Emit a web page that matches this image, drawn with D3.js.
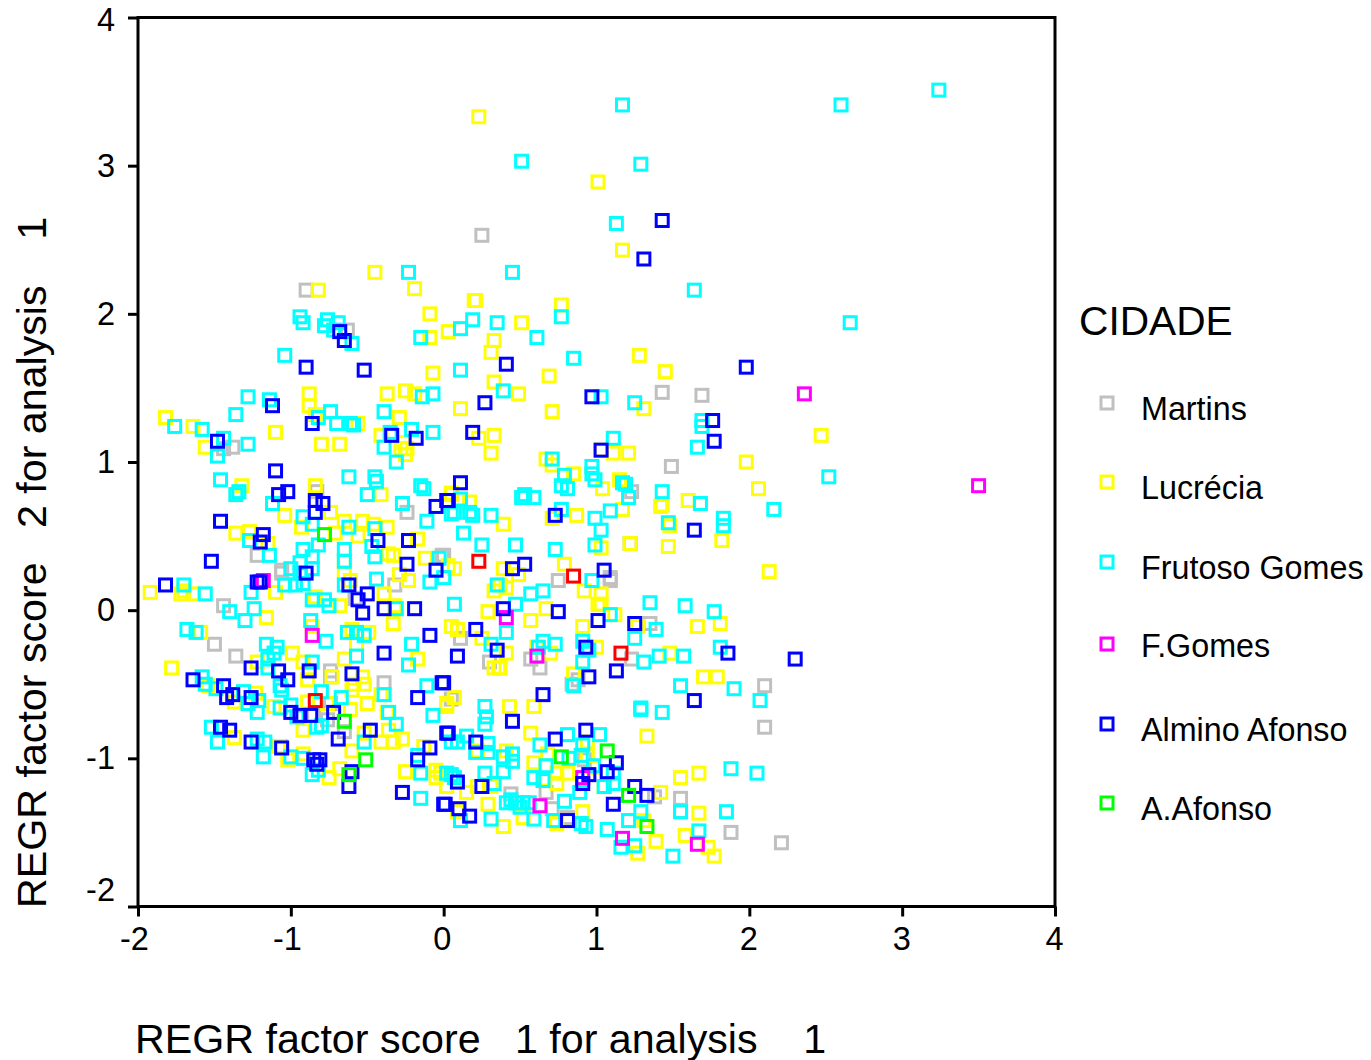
<!DOCTYPE html>
<html><head><meta charset="utf-8">
<script src="https://cdnjs.cloudflare.com/ajax/libs/d3/7.8.5/d3.min.js"></script>
<style>html,body{margin:0;padding:0;background:#fff}svg{display:block}text{font-family:"Liberation Sans",Arial,sans-serif;fill:#000;white-space:pre}</style>
</head><body><svg id="c" width="1371" height="1060"></svg>
<script>
const categories=["Martins","Lucrécia","Frutoso Gomes","F.Gomes","Almino Afonso","A.Afonso"];
const colors=["#c0c0c0","#ffff00","#00ffff","#ff00ff","#0000ff","#00ff00"];
const xTicks=[-2,-1,0,1,2,3,4];
const yTicks=[-2,-1,0,1,2,3,4];
const xTitle="REGR factor score   1 for analysis    1";
const yTitle="REGR factor score   2 for analysis    1";
const martins=[[0.25,2.53],[1.43,1.47],[1.69,1.45],[1.49,0.97],[2.10,-0.51],[2.10,-0.79],[2.21,-1.57],[1.88,-1.50],[1.55,-1.27],[1.55,-1.36],[1.22,0.45],[1.09,0.2],[1.23,0.80],[0.75,0.20],[1.09,0.22],[0.0,0.37],[0.11,-0.19],[0.30,-0.35],[0.57,-0.33],[0.63,-0.39],[1.23,-0.33],[1.35,-0.09],[0.84,-0.50],[0.88,-0.47],[0.05,-0.60],[0.67,-1.23],[0.44,-1.24],[0.71,-1.34],[0.81,-1.40],[1.38,-1.26],[0.92,-1.01],[-0.90,2.16],[-0.63,1.89],[-1.38,1.10],[-1.44,1.09],[-0.83,0.80],[-0.24,0.66],[-1.22,0.37],[-1.06,0.27],[-0.01,0.37],[-1.44,0.03],[-1.50,-0.23],[-1.36,-0.31],[-0.74,-0.41],[-0.74,-0.45],[-0.39,-0.49],[-0.85,-0.71],[-0.74,-0.63],[-0.76,-0.74],[-0.65,-0.82],[-1.07,-0.92],[-1.06,0.25],[-0.32,0.17],[-0.58,0.08]];
const lucrecia=[[0.23,3.33],[1.01,2.89],[1.17,2.43],[-0.45,2.28],[2.47,1.18],[1.98,1.0],[2.06,0.82],[2.13,0.26],[1.45,1.61],[1.28,1.72],[1.31,1.36],[1.82,0.47],[1.60,0.74],[1.43,0.71],[1.42,0.70],[1.47,0.43],[1.22,0.45],[1.21,1.06],[1.66,-0.11],[1.81,-0.09],[1.70,-0.45],[1.79,-0.45],[1.67,-1.10],[1.55,-1.13],[1.33,-0.85],[1.67,-1.37],[1.58,-1.52],[1.73,-1.6],[1.77,-1.66],[1.39,-1.56],[1.27,-1.64],[0.20,2.09],[0.21,2.09],[0.77,2.06],[0.51,1.94],[0.33,1.82],[0.31,1.74],[0.03,1.88],[0.33,1.54],[0.49,1.46],[0.69,1.58],[0.11,1.36],[0.71,1.34],[0.23,1.16],[0.33,1.18],[0.31,1.06],[0.67,1.02],[0.71,0.98],[0.85,0.92],[1.03,1.08],[1.11,1.06],[1.15,0.88],[1.04,0.82],[1.17,0.68],[1.48,0.57],[1.03,0.42],[0.87,0.64],[0.71,0.62],[0.39,0.58],[0.17,0.73],[0.05,0.78],[0.07,0.28],[0.79,0.31],[0.39,0.28],[0.49,0.24],[0.37,0.17],[0.33,0.13],[0.41,0.15],[0.92,0.13],[1.03,0.11],[1.01,0.04],[1.03,0.04],[0.29,-0.01],[0.67,0.01],[0.57,-0.07],[0.91,-0.11],[1.12,-0.03],[1.27,-0.11],[0.09,-0.13],[0.25,-0.19],[0.41,-0.29],[0.61,-0.25],[0.70,-0.29],[1.0,-0.25],[1.48,-0.29],[0.33,-0.39],[0.36,-0.39],[0.37,-0.39],[0.85,-0.43],[0.07,-0.59],[0.02,-0.65],[0.43,-0.65],[0.59,-0.65],[0.57,-0.83],[0.41,-0.95],[0.22,-0.95],[0.94,-0.89],[0.59,-1.03],[0.68,-0.97],[0.94,-0.98],[0.98,-1.06],[0.74,-1.10],[0.74,-1.17],[0.81,-1.10],[0.66,-1.14],[-0.02,-1.10],[0.02,-1.19],[0.15,-1.23],[0.22,-1.19],[0.31,-1.19],[0.29,-1.31],[1.05,-1.19],[1.42,-1.23],[0.91,-1.36],[0.09,-1.36],[0.52,-1.40],[0.39,-1.46],[0.74,-1.44],[1.31,-1.42],[-0.82,2.16],[-0.19,2.17],[-0.09,2.0],[-0.09,1.84],[-0.07,1.60],[-0.37,1.46],[-0.25,1.48],[-0.19,1.46],[-0.88,1.46],[-0.88,1.38],[-0.84,1.32],[-0.29,1.30],[-1.82,1.30],[-1.64,1.24],[-1.56,1.10],[-1.10,1.20],[-0.80,1.12],[-0.68,1.12],[-0.56,1.26],[-0.41,1.18],[-0.26,1.13],[-0.28,1.09],[-0.24,1.09],[-0.25,1.05],[-1.32,0.84],[-0.84,0.84],[-0.41,0.78],[0.05,0.79],[-1.04,0.64],[-0.93,0.56],[-0.74,0.66],[-0.65,0.60],[-0.53,0.60],[-0.37,0.56],[-0.46,0.58],[-0.56,0.50],[-0.71,0.52],[-1.36,0.52],[-1.27,0.53],[-1.15,0.45],[-0.17,0.48],[-0.36,0.38],[-0.33,0.37],[-0.12,0.35],[-0.65,0.33],[-0.65,0.25],[-0.61,0.20],[-0.29,0.24],[-0.23,0.20],[0.03,0.30],[-1.92,0.12],[-1.72,0.11],[-1.64,0.11],[-1.70,0.13],[-1.10,0.12],[-0.84,0.09],[-0.68,0.03],[-0.39,0.11],[-0.32,0.03],[-1.16,-0.05],[-0.33,-0.09],[-0.86,-0.11],[-1.59,-0.15],[-1.78,-0.39],[-0.60,-0.13],[-0.49,-0.15],[-0.57,-0.23],[-0.65,-0.33],[-0.17,-0.33],[-0.99,-0.29],[-1.22,-0.35],[-0.92,-0.35],[-0.89,-0.47],[-0.73,-0.45],[-0.53,-0.45],[-0.59,-0.50],[-0.52,-0.50],[-0.60,-0.54],[-0.41,-0.57],[-0.50,-0.63],[-0.61,-0.67],[-1.54,-0.51],[-1.23,-0.56],[-1.37,-0.62],[-1.11,-0.65],[-0.89,-0.62],[-0.76,-0.63],[-0.37,-0.69],[-1.37,-0.86],[-0.92,-0.81],[-0.52,-0.83],[-0.41,-0.89],[-0.33,-0.89],[-0.27,-0.87],[-0.36,-0.81],[-0.60,-0.95],[-1.08,-0.92],[-0.92,-0.97],[-1.02,-1.01],[-0.68,-1.07],[-0.75,-1.13],[-0.25,-1.09],[-0.13,-0.92],[-0.05,-1.08],[-0.05,-1.13],[0.02,-1.19],[0.05,-0.11],[0.02,-0.63]];
const frutoso=[[3.24,3.51],[2.60,3.41],[1.17,3.41],[0.51,3.03],[1.29,3.01],[1.13,2.61],[1.64,2.16],[2.66,1.94],[-0.23,2.28],[0.45,2.28],[1.66,1.10],[1.69,1.28],[1.69,1.24],[2.52,0.90],[2.16,0.68],[1.83,0.62],[1.83,0.57],[1.68,0.72],[1.43,0.80],[1.47,0.59],[1.58,0.03],[1.77,-0.01],[1.35,0.05],[1.81,-0.25],[1.57,-0.31],[2.07,-0.61],[1.90,-0.53],[1.55,-0.51],[1.29,-0.66],[1.43,-0.69],[1.88,-1.07],[2.05,-1.10],[1.85,-1.36],[1.55,-1.36],[1.67,-1.49],[1.50,-1.66],[1.25,-1.59],[1.16,-1.60],[0.19,1.96],[0.11,1.90],[0.35,1.94],[0.61,1.84],[0.77,1.98],[0.85,1.70],[0.11,1.62],[0.39,1.48],[1.03,1.44],[1.25,1.40],[1.11,1.16],[0.71,1.02],[0.97,0.97],[0.97,0.92],[0.99,0.88],[0.79,0.91],[0.77,0.84],[0.81,0.82],[1.17,0.86],[1.19,0.85],[1.21,0.76],[0.51,0.76],[0.53,0.78],[0.59,0.76],[0.77,0.68],[0.99,0.62],[1.09,0.67],[1.03,0.54],[0.99,0.44],[0.73,0.41],[0.47,0.44],[0.25,0.44],[0.13,0.52],[0.31,0.64],[0.19,0.64],[0.17,0.66],[0.07,0.66],[0.11,0.75],[0.97,0.20],[0.07,0.04],[0.35,0.17],[0.57,0.11],[0.65,0.13],[0.47,0.04],[1.09,-0.03],[0.41,-0.15],[1.25,-0.19],[1.39,-0.13],[0.31,-0.23],[0.65,-0.21],[0.73,-0.23],[0.91,-0.21],[0.95,-0.27],[0.62,-0.25],[0.91,-0.35],[1.31,-0.35],[1.41,-0.31],[0.85,-0.51],[1.29,-0.67],[0.27,-0.65],[0.28,-0.72],[0.27,-0.77],[0.15,-0.85],[0.05,-0.89],[0.09,-0.89],[0.29,-0.90],[0.29,-0.96],[0.21,-0.96],[0.45,-0.97],[0.45,-1.02],[0.39,-0.99],[0.39,-1.09],[0.27,-1.10],[0.33,-1.17],[0.81,-0.84],[0.63,-0.91],[1.02,-0.84],[0.91,-0.91],[0.90,-0.98],[0.82,-1.0],[0.67,-1.05],[0.98,-1.05],[0.59,-1.13],[0.65,-1.15],[1.11,-1.10],[1.11,-1.17],[1.05,-1.19],[0.89,-1.23],[0.79,-1.29],[0.05,-1.11],[0.07,-1.13],[0.41,-1.30],[0.47,-1.30],[0.52,-1.30],[0.56,-1.30],[0.44,-1.28],[0.50,-1.33],[0.31,-1.41],[0.11,-1.42],[0.59,-1.41],[0.72,-1.42],[0.90,-1.44],[0.93,-1.46],[1.07,-1.48],[1.21,-1.42],[1.29,-1.36],[-0.94,1.98],[-0.92,1.94],[-0.76,1.96],[-0.78,1.92],[-0.69,1.94],[-0.72,1.89],[-0.60,1.80],[-0.15,1.84],[-1.04,1.72],[-0.07,1.46],[-0.14,1.44],[-1.28,1.44],[-1.14,1.42],[-1.36,1.32],[-1.76,1.24],[-1.58,1.22],[-1.44,1.16],[-1.28,1.12],[-1.48,1.04],[-0.82,1.30],[-0.74,1.34],[-0.70,1.26],[-0.61,1.26],[-0.59,1.25],[-0.39,1.34],[-0.35,1.20],[-0.21,1.22],[-0.07,1.20],[-0.39,1.10],[-0.31,1.00],[-1.46,0.88],[-1.34,0.80],[-1.36,0.78],[-0.62,0.90],[-0.45,0.90],[-0.44,0.87],[-0.15,0.84],[-0.13,0.82],[-0.50,0.78],[-1.12,0.72],[-0.27,0.72],[-0.11,0.60],[-0.92,0.63],[-0.86,0.58],[-0.62,0.56],[-0.45,0.55],[-0.82,0.44],[-0.65,0.41],[-0.65,0.33],[-0.47,0.43],[-0.45,0.36],[-1.27,0.47],[-1.14,0.37],[-0.92,0.41],[-0.86,0.36],[-1.0,0.28],[-0.94,0.32],[-0.86,0.28],[-0.94,0.25],[-0.03,0.35],[-0.44,0.21],[0.05,0.65],[-1.70,0.17],[-1.56,0.11],[-1.26,0.12],[-1.04,0.17],[-0.97,0.17],[-0.92,0.18],[-0.65,0.17],[-0.09,0.19],[-0.0,0.22],[-1.40,-0.01],[-1.24,0.01],[-1.30,-0.07],[-0.86,0.07],[-0.78,0.07],[-0.75,0.03],[-0.31,0.01],[-0.87,-0.07],[-1.68,-0.13],[-1.62,-0.15],[-0.63,-0.15],[-0.57,-0.15],[-0.52,-0.17],[-0.77,-0.21],[-0.21,-0.23],[-1.16,-0.23],[-1.09,-0.25],[-1.11,-0.29],[-1.15,-0.33],[-0.86,-0.35],[-0.57,-0.31],[-0.23,-0.37],[-1.15,-0.39],[-1.58,-0.45],[-1.56,-0.50],[-1.49,-0.53],[-1.31,-0.55],[-1.21,-0.61],[-1.22,-0.69],[-1.28,-0.63],[-1.07,-0.51],[-1.06,-0.54],[-0.80,-0.55],[-0.67,-0.59],[-0.39,-0.57],[-0.11,-0.51],[-0.07,-0.71],[-0.36,-0.69],[-0.31,-0.77],[-1.07,-0.66],[-1.0,-0.64],[-0.96,-0.72],[-0.83,-0.79],[-0.80,-0.78],[-1.52,-0.79],[-1.48,-0.89],[-1.22,-0.87],[-1.17,-0.89],[-1.18,-0.99],[-1.0,-0.99],[-0.92,-1.0],[-0.82,-1.08],[-0.86,-1.11],[-0.52,-0.89],[-0.17,-0.98],[-0.15,-1.10],[-0.15,-1.27],[0.02,-1.10]];
const fgomes=[[2.36,1.46],[3.50,0.84],[1.66,-1.58],[1.17,-1.54],[0.63,-1.32],[0.61,-0.31],[-0.86,-0.17],[-1.18,0.20],[0.41,-0.05],[0.91,-1.13]];
const almino=[[1.43,2.63],[1.31,2.37],[1.98,1.64],[2.30,-0.33],[1.76,1.28],[1.77,1.14],[1.64,0.54],[1.86,-0.29],[1.64,-0.61],[0.41,1.66],[0.97,1.44],[0.27,1.40],[0.19,1.20],[1.03,1.08],[0.11,0.86],[0.03,0.74],[0.73,0.64],[0.45,0.28],[0.53,0.31],[1.05,0.27],[0.39,0.01],[0.75,-0.01],[1.01,-0.07],[1.25,-0.09],[0.21,-0.13],[0.35,-0.27],[0.09,-0.31],[0.93,-0.25],[1.13,-0.41],[0.95,-0.45],[0,-0.49],[0.65,-0.57],[0.45,-0.75],[0.03,-0.83],[0.21,-0.89],[0.73,-0.87],[0.93,-0.81],[1.13,-1.03],[1.07,-1.09],[0.95,-1.11],[0.91,-1.17],[0.09,-1.16],[0.25,-1.19],[1.25,-1.19],[1.33,-1.25],[1.11,-1.31],[0.01,-1.31],[0.10,-1.34],[0.17,-1.39],[0.81,-1.42],[-0.68,1.88],[-0.65,1.82],[-0.90,1.64],[-0.52,1.62],[-1.12,1.38],[-0.86,1.26],[-0.34,1.18],[-0.18,1.16],[-1.48,1.14],[-1.10,0.94],[-1.08,0.78],[-1.02,0.80],[-1.46,0.60],[-0.84,0.74],[-0.79,0.72],[-0.84,0.66],[-0.05,0.70],[0.02,0.74],[-1.18,0.51],[-1.20,0.46],[-0.43,0.47],[-0.23,0.47],[-0.24,0.31],[-0.05,0.27],[-1.52,0.33],[-0.90,0.25],[-1.82,0.17],[-1.22,0.19],[-1.20,0.19],[-0.62,0.17],[-0.56,0.07],[-0.50,0.11],[-0.53,-0.02],[-0.39,0.01],[-0.19,0.01],[-0.09,-0.17],[-0.39,-0.29],[-1.26,-0.39],[-1.08,-0.41],[-1.02,-0.47],[-0.88,-0.41],[-0.60,-0.43],[-1.64,-0.47],[-1.44,-0.51],[-1.42,-0.59],[-1.38,-0.57],[-1.26,-0.59],[-0.01,-0.49],[-0.17,-0.59],[-1.0,-0.69],[-0.94,-0.71],[-0.87,-0.71],[-0.72,-0.69],[-1.46,-0.79],[-1.40,-0.81],[-1.26,-0.89],[-1.06,-0.93],[-0.48,-0.81],[-0.69,-0.87],[-0.09,-0.93],[-0.17,-1.01],[-0.85,-1.01],[-0.81,-1.01],[-0.83,-1.04],[-0.60,-1.09],[-0.62,-1.19],[-0.27,-1.23],[0.0,-1.31],[0.02,-0.83]];
const afonso=[[-0.78,0.51],[-0.65,-0.75],[-0.51,-1.01],[-0.62,-1.11],[0.77,-0.99],[1.07,-0.95],[1.21,-1.25],[1.33,-1.46]];
const unlisted=[[0.23,0.33],[0.85,0.23],[1.16,-0.29],[-0.84,-0.61]];
const seriesValues=[martins,lucrecia,frutoso,fgomes,almino,afonso];

const svg=d3.select("#c");
const x=d3.scaleLinear().domain([-2,4]).range([138,1055]);
const y=d3.scaleLinear().domain([-2,4]).range([906.5,17.5]);
const fmt=d=>String(d);
const marks=svg.append("g").attr("fill","none").attr("stroke-width",3);
seriesValues.forEach((vals,i)=>{
  marks.append("g").attr("stroke",colors[i]).selectAll("rect").data(vals).join("rect")
    .attr("x",d=>x(d[0])-6).attr("y",d=>y(d[1])-6).attr("width",12).attr("height",12);
});
marks.append("g").attr("stroke","#ff0000").selectAll("rect").data(unlisted).join("rect")
  .attr("x",d=>x(d[0])-6).attr("y",d=>y(d[1])-6).attr("width",12).attr("height",12);

svg.append("rect").attr("x",138).attr("y",17.5).attr("width",917).attr("height",889)
  .attr("fill","none").attr("stroke","#000").attr("stroke-width",3);
const ax=svg.append("g").attr("transform","translate(0,906.5)").call(d3.axisBottom(x).tickValues(xTicks).tickFormat(fmt).tickSize(10).tickPadding(10));
const ay=svg.append("g").attr("transform","translate(138,0)").call(d3.axisLeft(y).tickValues(yTicks).tickFormat(fmt).tickSize(10).tickPadding(13));
[ax,ay].forEach(a=>{
  a.select(".domain").remove();
  a.selectAll(".tick line").attr("stroke","#000").attr("stroke-width",3);
  a.selectAll(".tick text").attr("font-size",32.5).attr("font-family",'"Liberation Sans"').attr("fill","#000");
});
ax.selectAll(".tick text").attr("dx",d=>d>0?-1:d===0?-2:-4);
ay.selectAll(".tick text").filter(d=>d===-2).attr("dy",-6);
ay.selectAll(".tick text").filter(d=>d===4).attr("dy",13);
svg.append("text").attr("x",135).attr("y",1053).attr("font-size",41.2).text(xTitle);
svg.append("text").attr("transform","translate(46,908) rotate(-90)").attr("font-size",41.2).text(yTitle);
svg.append("text").attr("x",1079).attr("y",335).attr("font-size",40.7).text("CIDADE");
const legendY=[403,482,562,644,724,803];
const legendTextY=[420,499,579,657,741,820];
const lg=svg.append("g").selectAll("g").data(categories).join("g");
lg.append("rect").attr("x",1101).attr("y",(d,i)=>legendY[i]-6).attr("width",12).attr("height",12)
  .attr("fill","none").attr("stroke",(d,i)=>colors[i]).attr("stroke-width",3);
lg.append("text").attr("x",1141).attr("y",(d,i)=>legendTextY[i]).attr("font-size",32.3).text(d=>d);
</script></body></html>
